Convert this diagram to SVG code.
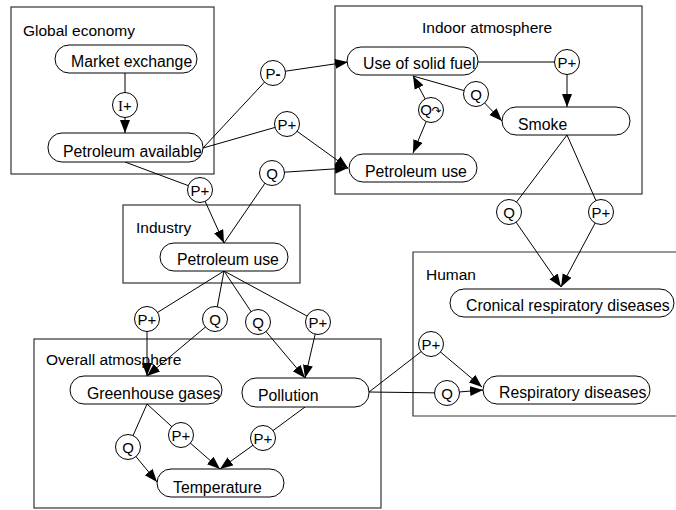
<svg xmlns="http://www.w3.org/2000/svg" width="676" height="510" viewBox="0 0 676 510">
  <defs>
    <marker id="arrow" markerUnits="userSpaceOnUse" markerWidth="14" markerHeight="11" refX="13" refY="5" orient="auto">
      <path d="M0,0 L13,5 L0,10 z" fill="#000"/>
    </marker>
    <style>
      text { font-family: "Liberation Sans", Arial, sans-serif; fill: #000; }
      .area { fill: none; stroke: #333; stroke-width: 1.2; }
      .area-label { font-size: 15.5px; }
      .node rect { fill: #fff; stroke: #000; stroke-width: 1; }
      .node text { font-size: 15.8px; }
      .inf circle { fill: #fff; stroke: #000; stroke-width: 1; }
      .inf text { font-size: 15px; text-anchor: middle; }
      .connectors path { fill: none; stroke: #000; stroke-width: 1; }
      .connectors path.arr { marker-end: url(#arrow); }
    </style>
  </defs>
  <rect width="676" height="510" fill="#fff"/>

  <!-- containers -->
  <g id="area-global-economy">
    <rect class="area" x="11" y="7" width="203" height="167"/>
    <text class="area-label" x="23" y="36">Global economy</text>
  </g>
  <g id="area-indoor-atmosphere">
    <rect class="area" x="335" y="6" width="307" height="188"/>
    <text class="area-label" x="422" y="33">Indoor atmosphere</text>
  </g>
  <g id="area-industry">
    <rect class="area" x="123" y="205" width="177" height="78"/>
    <text class="area-label" x="136" y="233">Industry</text>
  </g>
  <g id="area-overall-atmosphere">
    <rect class="area" x="34" y="339" width="347" height="169"/>
    <text class="area-label" x="46" y="365">Overall atmosphere</text>
  </g>
  <g id="area-human">
    <path class="area" d="M677,252 H413 V416 H677"/>
    <text class="area-label" x="426" y="280">Human</text>
  </g>

  <!-- dependencies -->
  <g id="connectors" class="connectors">
    <path d="M125,73 L125,105"/>
    <path class="arr" d="M125,105 L125,133"/>
    <path d="M203,148 L273,73"/>
    <path class="arr" d="M273,73 L348,62"/>
    <path d="M203,148 L287,124"/>
    <path class="arr" d="M287,124 L348,168"/>
    <path class="arr" d="M272,173 L348,168"/>
    <path d="M125,162 L200,190"/>
    <path class="arr" d="M200,190 L224,243"/>
    <path d="M272,173 L224,243"/>
    <path d="M478,62 L567,62"/>
    <path class="arr" d="M567,62 L567,107"/>
    <path d="M413,76 L476,94"/>
    <path class="arr" d="M476,94 L502,121"/>
    <path class="arr" d="M431,110 L413,76"/>
    <path class="arr" d="M431,110 L413,153"/>
    <path d="M567,135 L509,212"/>
    <path class="arr" d="M509,212 L561,287"/>
    <path d="M567,135 L601,212"/>
    <path class="arr" d="M601,212 L561,287"/>
    <path d="M224,271 L147,319"/>
    <path class="arr" d="M147,319 L147,376"/>
    <path d="M224,271 L215,319"/>
    <path class="arr" d="M215,319 L147,376"/>
    <path d="M224,271 L258,322"/>
    <path class="arr" d="M258,322 L305,378"/>
    <path d="M224,271 L318,322"/>
    <path class="arr" d="M318,322 L305,378"/>
    <path d="M147,404 L128,447"/>
    <path class="arr" d="M128,447 L157,482"/>
    <path d="M147,404 L181,435"/>
    <path class="arr" d="M181,435 L220,469"/>
    <path d="M305,407 L263,438"/>
    <path class="arr" d="M263,438 L220,469"/>
    <path d="M369,392 L431,344"/>
    <path class="arr" d="M431,344 L482,387"/>
    <path d="M369,392 L447,393"/>
    <path class="arr" d="M447,393 L483,390"/>
  </g>

  <!-- quantities -->
  <g id="market-exchange" class="node"><rect x="55" y="45" width="142" height="28" rx="14"/><text x="71" y="67">Market exchange</text></g>
  <g id="petroleum-available" class="node"><rect x="48" y="133" width="155" height="29" rx="14"/><text x="63" y="157">Petroleum available</text></g>
  <g id="use-of-solid-fuel" class="node"><rect x="347" y="47" width="131" height="28" rx="14"/><text x="363" y="69">Use of solid fuel</text></g>
  <g id="smoke" class="node"><rect x="502" y="107" width="128" height="28" rx="14"/><text x="518" y="130">Smoke</text></g>
  <g id="petroleum-use-indoor" class="node"><rect x="349" y="154" width="128" height="28" rx="14"/><text x="365" y="177">Petroleum use</text></g>
  <g id="petroleum-use-industry" class="node"><rect x="160" y="243" width="128" height="28" rx="14"/><text x="177" y="265">Petroleum use</text></g>
  <g id="cronical-respiratory-diseases" class="node"><rect x="450" y="289" width="224" height="28" rx="14"/><text x="466" y="311">Cronical respiratory diseases</text></g>
  <g id="respiratory-diseases" class="node"><rect x="483" y="376" width="167" height="28" rx="14"/><text x="499" y="398">Respiratory diseases</text></g>
  <g id="greenhouse-gases" class="node"><rect x="70" y="376" width="152" height="28" rx="14"/><text x="87" y="399">Greenhouse gases</text></g>
  <g id="pollution" class="node"><rect x="242" y="378" width="127" height="29" rx="14"/><text x="258" y="401">Pollution</text></g>
  <g id="temperature" class="node"><rect x="157" y="469" width="127" height="28" rx="14"/><text x="173" y="493">Temperature</text></g>

  <!-- influence / proportionality / correspondence labels -->
  <g id="inf-i-plus" class="inf"><circle cx="125" cy="105" r="12.5"/><text x="125" y="110.5"><tspan font-family="Liberation Serif, serif">I</tspan>+</text></g>
  <g id="inf-p-minus" class="inf"><circle cx="273" cy="73" r="12.5"/><text x="273" y="78.5">P<tspan font-weight="bold">-</tspan></text></g>
  <g id="inf-p-plus-1" class="inf"><circle cx="287" cy="124" r="12.5"/><text x="287" y="129.5">P+</text></g>
  <g id="inf-q-1" class="inf"><circle cx="272" cy="173" r="12.5"/><text x="272" y="178.5">Q</text></g>
  <g id="inf-p-plus-2" class="inf"><circle cx="200" cy="190" r="12.5"/><text x="200" y="195.5">P+</text></g>
  <g id="inf-p-plus-3" class="inf"><circle cx="567" cy="62" r="12.5"/><text x="567" y="67.5">P+</text></g>
  <g id="inf-q-2" class="inf"><circle cx="476" cy="94" r="12.5"/><text x="476" y="99.5">Q</text></g>
  <g id="inf-q-both" class="inf"><circle cx="431" cy="110" r="12.5"/><text x="431" y="115" font-size="13">Q<tspan font-family="DejaVu Sans, sans-serif" font-size="12">↷</tspan></text></g>
  <g id="inf-q-3" class="inf"><circle cx="509" cy="212" r="12.5"/><text x="509" y="217.5">Q</text></g>
  <g id="inf-p-plus-4" class="inf"><circle cx="601" cy="212" r="12.5"/><text x="601" y="217.5">P+</text></g>
  <g id="inf-p-plus-5" class="inf"><circle cx="147" cy="319" r="12.5"/><text x="147" y="324.5">P+</text></g>
  <g id="inf-q-4" class="inf"><circle cx="215" cy="319" r="12.5"/><text x="215" y="324.5">Q</text></g>
  <g id="inf-q-5" class="inf"><circle cx="258" cy="322" r="12.5"/><text x="258" y="327.5">Q</text></g>
  <g id="inf-p-plus-6" class="inf"><circle cx="318" cy="322" r="12.5"/><text x="318" y="327.5">P+</text></g>
  <g id="inf-q-6" class="inf"><circle cx="128" cy="447" r="12.5"/><text x="128" y="452.5">Q</text></g>
  <g id="inf-p-plus-7" class="inf"><circle cx="181" cy="435" r="12.5"/><text x="181" y="440.5">P+</text></g>
  <g id="inf-p-plus-8" class="inf"><circle cx="263" cy="438" r="12.5"/><text x="263" y="443.5">P+</text></g>
  <g id="inf-p-plus-9" class="inf"><circle cx="431" cy="344" r="12.5"/><text x="431" y="349.5">P+</text></g>
  <g id="inf-q-7" class="inf"><circle cx="447" cy="393" r="12.5"/><text x="447" y="398.5">Q</text></g>
</svg>
